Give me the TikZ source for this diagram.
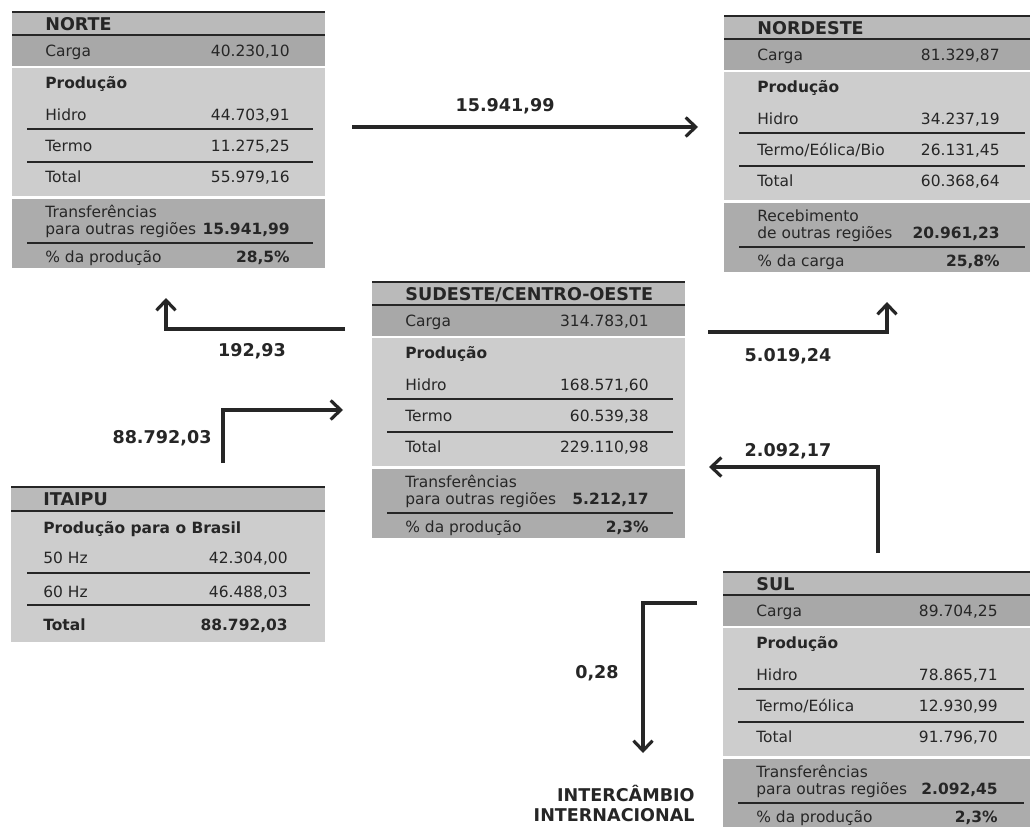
\documentclass[tikz,border=0pt]{standalone}
\usepackage{fontspec}
\setmainfont{DejaVu Sans}
\usepackage{tikz}
\usetikzlibrary{arrows.meta}
\definecolor{tinta}{RGB}{38,38,38}
\definecolor{cinzacab}{RGB}{186,186,186}
\definecolor{cinzacarga}{RGB}{168,168,168}
\definecolor{cinzaprod}{RGB}{205,205,205}
\definecolor{cinzatrf}{RGB}{172,172,172}
% fundo comum dos quadros das regioes (313 x 256 px)
\newcommand{\fundoreg}{%
  \fill[cinzacab] (0,0) rectangle (313,23);
  \fill[cinzacarga] (0,23) rectangle (313,54);
  \fill[cinzaprod] (0,56) rectangle (313,184);
  \fill[cinzatrf] (0,187) rectangle (313,256);
  \draw[borda] (0,0) -- (313,0);
  \draw[borda] (0,23) -- (313,23);
  \foreach \y in {117,150,231} \draw[divisa] (15,\y) -- (301,\y);
}

\begin{document}
\begin{tikzpicture}[x=0.02cm,y=-0.02cm,
  borda/.style={line width=1.5pt,tinta},
  divisa/.style={line width=0.9pt,tinta},
  txt/.style={inner sep=0pt,text=tinta,text height=6.3pt,text depth=0pt,font=\fontsize{8.8}{10}\selectfont},
  rot/.style={txt,anchor=west},
  val/.style={txt,anchor=east},
  negr/.style={font=\fontsize{8.8}{10}\selectfont\bfseries},
  cab/.style={inner sep=0pt,anchor=west,text=tinta,text height=7.3pt,text depth=0pt,font=\fontsize{10}{12}\selectfont\bfseries},
  rotulo/.style={inner sep=0pt,text=tinta,text height=7.3pt,text depth=0pt,font=\fontsize{10}{12}\selectfont\bfseries},
  seta/.style={line width=1.8pt,draw=tinta,-{Straight Barb[length=2mm,width=3.8mm]}}]
\useasboundingbox (0,0) rectangle (1030,827);
\clip (0,0) rectangle (1030,827);
\fill[white] (0,0) rectangle (1030,827);
% ---------- NORTE ----------
\begin{scope}[shift={(12,12)}]
\fundoreg
\node[cab] (norte) at (33,12) {NORTE};
\foreach \y/\lb/\vl [count=\i] in {39/Carga/{40.230,10}, 103/Hidro/{44.703,91},
                                   134/Termo/{11.275,25}, 165/Total/{55.979,16}}{
  \node[rot] (norte-r\i) at (33,\y) {\lb};
  \node[val] (norte-v\i) at (278,\y) {\vl};
}
\node[rot,negr] (norte-p) at (33,71) {Produção};
\node[rot] (norte-t1) at (33,200) {Transferências};
\node[rot] (norte-t2) at (33,217) {para outras regiões};
\node[val,negr] (norte-tv) at (278,217) {15.941,99};
\node[rot] (norte-pc) at (33,245) {\% da produção};
\node[val,negr] (norte-pv) at (278,245) {28,5\%};
\end{scope}
% ---------- NORDESTE ----------
\begin{scope}[shift={(724,16)}]
\fundoreg
\node[cab] (nordeste) at (33,12) {NORDESTE};
\foreach \y/\lb/\vl [count=\i] in {39/Carga/{81.329,87}, 103/Hidro/{34.237,19},
                                   134/Termo\slash Eólica\slash Bio/{26.131,45}, 165/Total/{60.368,64}}{
  \node[rot] (nordeste-r\i) at (33,\y) {\lb};
  \node[val] (nordeste-v\i) at (276,\y) {\vl};
}
\node[rot,negr] (nordeste-p) at (33,71) {Produção};
\node[rot] (nordeste-t1) at (33,200) {Recebimento};
\node[rot] (nordeste-t2) at (33,217) {de outras regiões};
\node[val,negr] (nordeste-tv) at (276,217) {20.961,23};
\node[rot] (nordeste-pc) at (33,245) {\% da carga};
\node[val,negr] (nordeste-pv) at (276,245) {25,8\%};
\end{scope}
% ---------- SUDESTE/CENTRO-OESTE ----------
\begin{scope}[shift={(372,282)}]
\fundoreg
\node[cab] (sudeste) at (33,12) {SUDESTE/CENTRO-OESTE};
\foreach \y/\lb/\vl [count=\i] in {39/Carga/{314.783,01}, 103/Hidro/{168.571,60},
                                   134/Termo/{60.539,38}, 165/Total/{229.110,98}}{
  \node[rot] (sudeste-r\i) at (33,\y) {\lb};
  \node[val] (sudeste-v\i) at (277,\y) {\vl};
}
\node[rot,negr] (sudeste-p) at (33,71) {Produção};
\node[rot] (sudeste-t1) at (33,200) {Transferências};
\node[rot] (sudeste-t2) at (33,217) {para outras regiões};
\node[val,negr] (sudeste-tv) at (277,217) {5.212,17};
\node[rot] (sudeste-pc) at (33,245) {\% da produção};
\node[val,negr] (sudeste-pv) at (277,245) {2,3\%};
\end{scope}
% ---------- SUL ----------
\begin{scope}[shift={(723,572)}]
\fundoreg
\node[cab] (sul) at (33,12) {SUL};
\foreach \y/\lb/\vl [count=\i] in {39/Carga/{89.704,25}, 103/Hidro/{78.865,71},
                                   134/Termo\slash Eólica/{12.930,99}, 165/Total/{91.796,70}}{
  \node[rot] (sul-r\i) at (33,\y) {\lb};
  \node[val] (sul-v\i) at (275,\y) {\vl};
}
\node[rot,negr] (sul-p) at (33,71) {Produção};
\node[rot] (sul-t1) at (33,200) {Transferências};
\node[rot] (sul-t2) at (33,217) {para outras regiões};
\node[val,negr] (sul-tv) at (275,217) {2.092,45};
\node[rot] (sul-pc) at (33,245) {\% da produção};
\node[val,negr] (sul-pv) at (275,245) {2,3\%};
\end{scope}
% ---------- ITAIPU ----------
\begin{scope}[shift={(11,487)}]
\fill[cinzacab] (0,0) rectangle (314,24);
\fill[cinzaprod] (0,24) rectangle (314,155);
\draw[borda] (0,0) -- (314,0);
\draw[borda] (0,24) -- (314,24);
\foreach \y in {86,118} \draw[divisa] (16,\y) -- (299,\y);
\node[cab] (itaipu) at (32,12) {ITAIPU};
\node[rot,negr] (itaipu-p) at (32,41) {Produção para o Brasil};
\node[rot] (itaipu-r1) at (32,71) {50 Hz};
\node[val] (itaipu-v1) at (277,71) {42.304,00};
\node[rot] (itaipu-r2) at (32,105) {60 Hz};
\node[val] (itaipu-v2) at (277,105) {46.488,03};
\node[rot,negr] (itaipu-r3) at (32,138) {Total};
\node[val,negr] (itaipu-v3) at (277,138) {88.792,03};
\end{scope}
% ---------- fluxos entre regioes ----------
\coordinate (no-a) at (352,127);  \coordinate (no-b) at (698,127);
\coordinate (se-no-a) at (345,329); \coordinate (se-no-b) at (166,298);
\coordinate (it-a) at (223,463);  \coordinate (it-b) at (343,410);
\coordinate (se-ne-a) at (708,332); \coordinate (se-ne-b) at (887,302);
\coordinate (sul-a) at (878,553); \coordinate (sul-b) at (709,467);
\coordinate (int-a) at (697,603); \coordinate (int-b) at (643,753);
\draw[seta] (no-a) -- (no-b);
\draw[seta] (se-no-a) -| (se-no-b);
\draw[seta] (it-a) |- (it-b);
\draw[seta] (se-ne-a) -| (se-ne-b);
\draw[seta] (sul-a) |- (sul-b);
\draw[seta] (int-a) -| (int-b);
\node[rotulo] (f-no) at (505,105) {15.941,99};
\node[rotulo] (f-se-no) at (252,350) {192,93};
\node[rotulo] (f-it) at (162,437) {88.792,03};
\node[rotulo] (f-se-ne) at (788,355) {5.019,24};
\node[rotulo] (f-sul) at (788,450) {2.092,17};
\node[rotulo] (f-int) at (597,672) {0,28};
\node[rotulo,anchor=east] (intl1) at (695,795) {INTERCÂMBIO};
\node[rotulo,anchor=east] (intl2) at (695,815) {INTERNACIONAL};
\end{tikzpicture}
\end{document}
